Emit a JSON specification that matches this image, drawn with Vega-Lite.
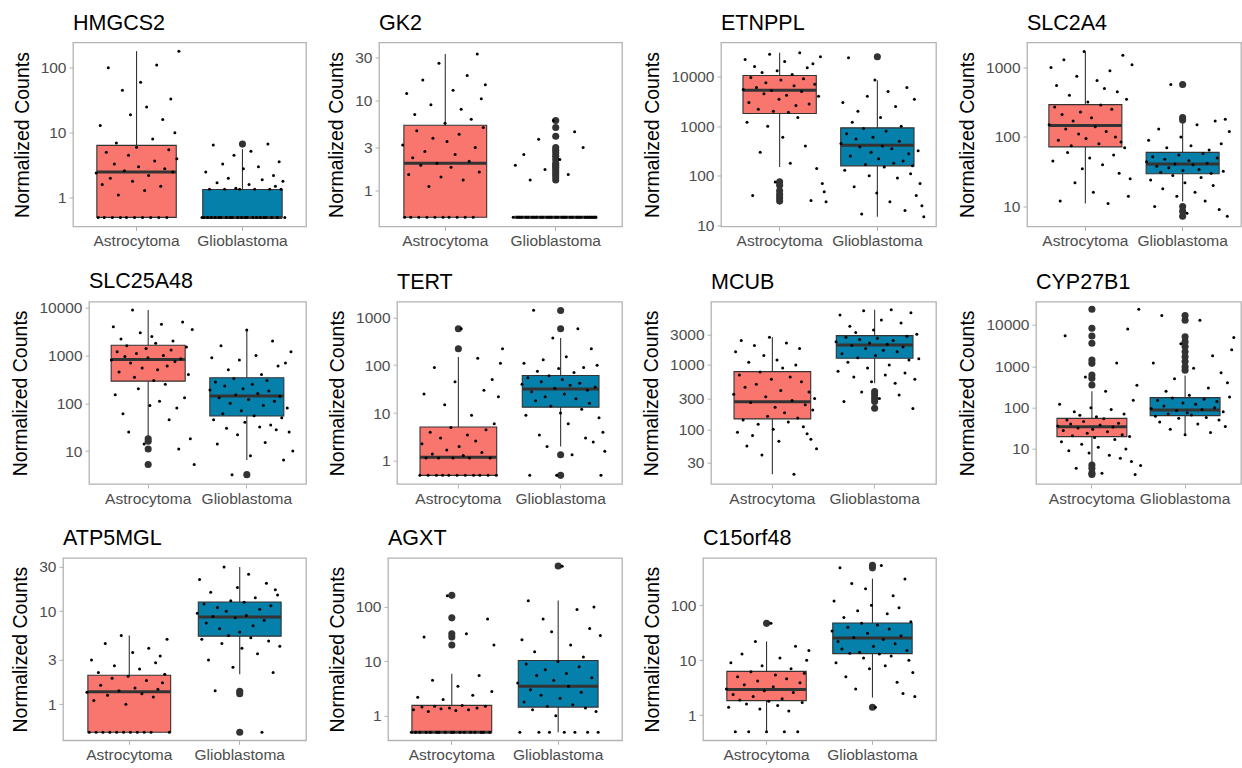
{
"$schema":"https://vega.github.io/schema/vega-lite/v6.json",
"background":"white",
"padding":{"left":0,"top":11.5,"right":0,"bottom":0},
"config":{
 "font":"Liberation Sans",
 "view":{"stroke":"#B3B3B3","strokeWidth":1.3},
 "axis":{"grid":false,"domain":false,"tickColor":"#B3B3B3","tickSize":4,"tickWidth":1,"labelFontSize":15.5,"labelColor":"#4D4D4D","labelPadding":3,"titleFontSize":19.5,"titleFontWeight":"normal","titleColor":"#000000","titlePadding":8,"labelFont":"Liberation Sans","titleFont":"Liberation Sans"},
 "title":{"anchor":"start","frame":"group","fontSize":21.5,"fontWeight":"normal","color":"#000000","offset":8,"font":"Liberation Sans"}
},
"datasets":{
"box":[
{"g":"HMGCS2","c":"A","lo":0.5,"q1":0.5,"med":2.5,"q3":6.4,"hi":180},
{"g":"HMGCS2","c":"G","lo":0.5,"q1":0.5,"med":0.5,"q3":1.34,"hi":5.6},
{"g":"GK2","c":"A","lo":0.5,"q1":0.5,"med":2.0,"q3":5.3,"hi":33},
{"g":"GK2","c":"G","lo":0.5,"q1":0.5,"med":0.5,"q3":0.5,"hi":0.5},
{"g":"ETNPPL","c":"A","lo":151,"q1":1800,"med":5300,"q3":10500,"hi":30000},
{"g":"ETNPPL","c":"G","lo":15,"q1":159,"med":414,"q3":925,"hi":8430},
{"g":"SLC2A4","c":"A","lo":11,"q1":72,"med":147,"q3":293,"hi":1700},
{"g":"SLC2A4","c":"G","lo":11.8,"q1":29.5,"med":41,"q3":60,"hi":159},
{"g":"SLC25A48","c":"A","lo":20.5,"q1":290,"med":825,"q3":1640,"hi":9000},
{"g":"SLC25A48","c":"G","lo":6.5,"q1":54,"med":141,"q3":341,"hi":3400},
{"g":"TERT","c":"A","lo":0.5,"q1":0.5,"med":1.2,"q3":5.1,"hi":148},
{"g":"TERT","c":"G","lo":2.0,"q1":13.3,"med":32,"q3":61,"hi":370},
{"g":"MCUB","c":"A","lo":20,"q1":145,"med":269,"q3":788,"hi":2700},
{"g":"MCUB","c":"G","lo":518,"q1":1270,"med":2050,"q3":2860,"hi":7200},
{"g":"CYP27B1","c":"A","lo":4.5,"q1":19.9,"med":34.7,"q3":55,"hi":250},
{"g":"CYP27B1","c":"G","lo":21.8,"q1":64,"med":88,"q3":175,"hi":600},
{"g":"ATP5MGL","c":"A","lo":0.5,"q1":0.5,"med":1.36,"q3":2.05,"hi":5.5},
{"g":"ATP5MGL","c":"G","lo":2.1,"q1":5.4,"med":8.7,"q3":12.6,"hi":30},
{"g":"AGXT","c":"A","lo":0.5,"q1":0.5,"med":0.5,"q3":1.56,"hi":5.9},
{"g":"AGXT","c":"G","lo":0.5,"q1":1.45,"med":3.5,"q3":10.4,"hi":131},
{"g":"C15orf48","c":"A","lo":0.5,"q1":1.85,"med":2.93,"q3":6.3,"hi":22},
{"g":"C15orf48","c":"G","lo":2.1,"q1":13.2,"med":25.5,"q3":47.8,"hi":305}
],
"out":[
{"g":"HMGCS2","c":"G","v":6.7},
{"g":"GK2","c":"G","v":1.3},{"g":"GK2","c":"G","v":1.4},{"g":"GK2","c":"G","v":1.5},{"g":"GK2","c":"G","v":1.6},{"g":"GK2","c":"G","v":1.7},{"g":"GK2","c":"G","v":1.8},{"g":"GK2","c":"G","v":1.9},{"g":"GK2","c":"G","v":2.0},{"g":"GK2","c":"G","v":2.2},{"g":"GK2","c":"G","v":2.4},{"g":"GK2","c":"G","v":2.6},{"g":"GK2","c":"G","v":2.8},{"g":"GK2","c":"G","v":3.0},{"g":"GK2","c":"G","v":4.0},{"g":"GK2","c":"G","v":5.0},{"g":"GK2","c":"G","v":6.0},
{"g":"ETNPPL","c":"A","v":76},{"g":"ETNPPL","c":"A","v":65},{"g":"ETNPPL","c":"A","v":50},{"g":"ETNPPL","c":"A","v":42},{"g":"ETNPPL","c":"A","v":36},{"g":"ETNPPL","c":"A","v":31},
{"g":"ETNPPL","c":"G","v":24900},
{"g":"SLC2A4","c":"G","v":570},{"g":"SLC2A4","c":"G","v":190},{"g":"SLC2A4","c":"G","v":175},{"g":"SLC2A4","c":"G","v":10},{"g":"SLC2A4","c":"G","v":8.5},{"g":"SLC2A4","c":"G","v":7.2},
{"g":"SLC25A48","c":"A","v":18},{"g":"SLC25A48","c":"A","v":16},{"g":"SLC25A48","c":"A","v":11},{"g":"SLC25A48","c":"A","v":5.2},
{"g":"SLC25A48","c":"G","v":3.2},
{"g":"TERT","c":"A","v":220},{"g":"TERT","c":"A","v":575},
{"g":"TERT","c":"G","v":1390},{"g":"TERT","c":"G","v":575},{"g":"TERT","c":"G","v":1.35},{"g":"TERT","c":"G","v":0.5},
{"g":"MCUB","c":"G","v":385},{"g":"MCUB","c":"G","v":345},{"g":"MCUB","c":"G","v":303},{"g":"MCUB","c":"G","v":270},{"g":"MCUB","c":"G","v":212},
{"g":"CYP27B1","c":"A","v":353},{"g":"CYP27B1","c":"A","v":513},{"g":"CYP27B1","c":"A","v":617},{"g":"CYP27B1","c":"A","v":1180},{"g":"CYP27B1","c":"A","v":1420},{"g":"CYP27B1","c":"A","v":3600},{"g":"CYP27B1","c":"A","v":5400},{"g":"CYP27B1","c":"A","v":8300},{"g":"CYP27B1","c":"A","v":24000},{"g":"CYP27B1","c":"A","v":4.1},{"g":"CYP27B1","c":"A","v":3.4},{"g":"CYP27B1","c":"A","v":2.6},{"g":"CYP27B1","c":"A","v":2.4},
{"g":"CYP27B1","c":"G","v":800},{"g":"CYP27B1","c":"G","v":980},{"g":"CYP27B1","c":"G","v":1300},{"g":"CYP27B1","c":"G","v":1700},{"g":"CYP27B1","c":"G","v":2250},{"g":"CYP27B1","c":"G","v":3000},{"g":"CYP27B1","c":"G","v":3950},{"g":"CYP27B1","c":"G","v":5200},{"g":"CYP27B1","c":"G","v":13000},{"g":"CYP27B1","c":"G","v":17000},
{"g":"ATP5MGL","c":"G","v":1.38},{"g":"ATP5MGL","c":"G","v":1.3},{"g":"ATP5MGL","c":"G","v":0.5},
{"g":"AGXT","c":"A","v":163},{"g":"AGXT","c":"A","v":63},{"g":"AGXT","c":"A","v":32},{"g":"AGXT","c":"A","v":28},{"g":"AGXT","c":"A","v":20},
{"g":"AGXT","c":"G","v":563},
{"g":"C15orf48","c":"A","v":47},
{"g":"C15orf48","c":"G","v":533},{"g":"C15orf48","c":"G","v":480},{"g":"C15orf48","c":"G","v":1.4}
],
"pts":[
{"g":"HMGCS2","c":"A","v":2.4},{"g":"HMGCS2","c":"A","v":0.5},{"g":"HMGCS2","c":"A","v":13},{"g":"HMGCS2","c":"A","v":1.6},{"g":"HMGCS2","c":"A","v":0.5},{"g":"HMGCS2","c":"A","v":5.0},{"g":"HMGCS2","c":"A","v":100},{"g":"HMGCS2","c":"A","v":2.0},{"g":"HMGCS2","c":"A","v":0.5},{"g":"HMGCS2","c":"A","v":3.3},{"g":"HMGCS2","c":"A","v":7},{"g":"HMGCS2","c":"A","v":1.1},{"g":"HMGCS2","c":"A","v":0.5},{"g":"HMGCS2","c":"A","v":45},{"g":"HMGCS2","c":"A","v":2.6},{"g":"HMGCS2","c":"A","v":0.5},{"g":"HMGCS2","c":"A","v":4.5},{"g":"HMGCS2","c":"A","v":19},{"g":"HMGCS2","c":"A","v":1.8},{"g":"HMGCS2","c":"A","v":0.5},{"g":"HMGCS2","c":"A","v":6.0},{"g":"HMGCS2","c":"A","v":3.0},{"g":"HMGCS2","c":"A","v":60},{"g":"HMGCS2","c":"A","v":0.5},{"g":"HMGCS2","c":"A","v":1.3},{"g":"HMGCS2","c":"A","v":25},{"g":"HMGCS2","c":"A","v":2.2},{"g":"HMGCS2","c":"A","v":0.5},{"g":"HMGCS2","c":"A","v":8},{"g":"HMGCS2","c":"A","v":3.7},{"g":"HMGCS2","c":"A","v":110},{"g":"HMGCS2","c":"A","v":0.5},{"g":"HMGCS2","c":"A","v":1.5},{"g":"HMGCS2","c":"A","v":16},{"g":"HMGCS2","c":"A","v":2.8},{"g":"HMGCS2","c":"A","v":0.5},{"g":"HMGCS2","c":"A","v":5.5},{"g":"HMGCS2","c":"A","v":33},{"g":"HMGCS2","c":"A","v":2.5},{"g":"HMGCS2","c":"A","v":10},{"g":"HMGCS2","c":"A","v":4.0},{"g":"HMGCS2","c":"A","v":180},
{"g":"HMGCS2","c":"G","v":0.5},{"g":"HMGCS2","c":"G","v":0.5},{"g":"HMGCS2","c":"G","v":2.5},{"g":"HMGCS2","c":"G","v":0.5},{"g":"HMGCS2","c":"G","v":1.35},{"g":"HMGCS2","c":"G","v":0.5},{"g":"HMGCS2","c":"G","v":6.5},{"g":"HMGCS2","c":"G","v":0.5},{"g":"HMGCS2","c":"G","v":1.7},{"g":"HMGCS2","c":"G","v":0.5},{"g":"HMGCS2","c":"G","v":0.5},{"g":"HMGCS2","c":"G","v":3.3},{"g":"HMGCS2","c":"G","v":1.35},{"g":"HMGCS2","c":"G","v":0.5},{"g":"HMGCS2","c":"G","v":2.0},{"g":"HMGCS2","c":"G","v":0.5},{"g":"HMGCS2","c":"G","v":0.5},{"g":"HMGCS2","c":"G","v":4.5},{"g":"HMGCS2","c":"G","v":1.4},{"g":"HMGCS2","c":"G","v":0.5},{"g":"HMGCS2","c":"G","v":1.35},{"g":"HMGCS2","c":"G","v":0.5},{"g":"HMGCS2","c":"G","v":2.8},{"g":"HMGCS2","c":"G","v":0.5},{"g":"HMGCS2","c":"G","v":0.5},{"g":"HMGCS2","c":"G","v":1.6},{"g":"HMGCS2","c":"G","v":5.2},{"g":"HMGCS2","c":"G","v":0.5},{"g":"HMGCS2","c":"G","v":1.35},{"g":"HMGCS2","c":"G","v":0.5},{"g":"HMGCS2","c":"G","v":3.0},{"g":"HMGCS2","c":"G","v":0.5},{"g":"HMGCS2","c":"G","v":1.9},{"g":"HMGCS2","c":"G","v":0.5},{"g":"HMGCS2","c":"G","v":0.5},{"g":"HMGCS2","c":"G","v":6.7},{"g":"HMGCS2","c":"G","v":1.35},{"g":"HMGCS2","c":"G","v":0.5},{"g":"HMGCS2","c":"G","v":2.2},{"g":"HMGCS2","c":"G","v":1.5},{"g":"HMGCS2","c":"G","v":0.5},{"g":"HMGCS2","c":"G","v":3.6},{"g":"HMGCS2","c":"G","v":1.35},{"g":"HMGCS2","c":"G","v":1.8},{"g":"HMGCS2","c":"G","v":0.5},
{"g":"GK2","c":"A","v":3.2},{"g":"GK2","c":"A","v":0.5},{"g":"GK2","c":"A","v":12},{"g":"GK2","c":"A","v":1.5},{"g":"GK2","c":"A","v":0.5},{"g":"GK2","c":"A","v":2.3},{"g":"GK2","c":"A","v":7},{"g":"GK2","c":"A","v":4.6},{"g":"GK2","c":"A","v":0.5},{"g":"GK2","c":"A","v":1.9},{"g":"GK2","c":"A","v":17},{"g":"GK2","c":"A","v":2.7},{"g":"GK2","c":"A","v":0.5},{"g":"GK2","c":"A","v":1.1},{"g":"GK2","c":"A","v":9},{"g":"GK2","c":"A","v":3.8},{"g":"GK2","c":"A","v":0.5},{"g":"GK2","c":"A","v":2.0},{"g":"GK2","c":"A","v":26},{"g":"GK2","c":"A","v":1.4},{"g":"GK2","c":"A","v":0.5},{"g":"GK2","c":"A","v":5.6},{"g":"GK2","c":"A","v":3.5},{"g":"GK2","c":"A","v":0.5},{"g":"GK2","c":"A","v":1.8},{"g":"GK2","c":"A","v":13},{"g":"GK2","c":"A","v":2.5},{"g":"GK2","c":"A","v":0.5},{"g":"GK2","c":"A","v":4.2},{"g":"GK2","c":"A","v":8},{"g":"GK2","c":"A","v":1.3},{"g":"GK2","c":"A","v":0.5},{"g":"GK2","c":"A","v":19},{"g":"GK2","c":"A","v":2.1},{"g":"GK2","c":"A","v":6.2},{"g":"GK2","c":"A","v":0.5},{"g":"GK2","c":"A","v":3.0},{"g":"GK2","c":"A","v":33},{"g":"GK2","c":"A","v":1.6},{"g":"GK2","c":"A","v":10.5},{"g":"GK2","c":"A","v":5.0},{"g":"GK2","c":"A","v":15},
{"g":"GK2","c":"G","v":0.5},{"g":"GK2","c":"G","v":1.9},{"g":"GK2","c":"G","v":0.5},{"g":"GK2","c":"G","v":0.5},{"g":"GK2","c":"G","v":0.5},{"g":"GK2","c":"G","v":2.5},{"g":"GK2","c":"G","v":0.5},{"g":"GK2","c":"G","v":0.5},{"g":"GK2","c":"G","v":1.3},{"g":"GK2","c":"G","v":0.5},{"g":"GK2","c":"G","v":0.5},{"g":"GK2","c":"G","v":0.5},{"g":"GK2","c":"G","v":3.7},{"g":"GK2","c":"G","v":0.5},{"g":"GK2","c":"G","v":0.5},{"g":"GK2","c":"G","v":1.7},{"g":"GK2","c":"G","v":0.5},{"g":"GK2","c":"G","v":0.5},{"g":"GK2","c":"G","v":0.5},{"g":"GK2","c":"G","v":6.0},{"g":"GK2","c":"G","v":0.5},{"g":"GK2","c":"G","v":0.5},{"g":"GK2","c":"G","v":2.2},{"g":"GK2","c":"G","v":0.5},{"g":"GK2","c":"G","v":0.5},{"g":"GK2","c":"G","v":0.5},{"g":"GK2","c":"G","v":1.5},{"g":"GK2","c":"G","v":0.5},{"g":"GK2","c":"G","v":0.5},{"g":"GK2","c":"G","v":4.5},{"g":"GK2","c":"G","v":0.5},{"g":"GK2","c":"G","v":0.5},{"g":"GK2","c":"G","v":0.5},{"g":"GK2","c":"G","v":3.0},{"g":"GK2","c":"G","v":0.5},{"g":"GK2","c":"G","v":0.5},{"g":"GK2","c":"G","v":0.5},{"g":"GK2","c":"G","v":0.5},{"g":"GK2","c":"G","v":0.5},{"g":"GK2","c":"G","v":0.5},
{"g":"ETNPPL","c":"A","v":5500},{"g":"ETNPPL","c":"A","v":22000},{"g":"ETNPPL","c":"A","v":1200},{"g":"ETNPPL","c":"A","v":3000},{"g":"ETNPPL","c":"A","v":9500},{"g":"ETNPPL","c":"A","v":40},{"g":"ETNPPL","c":"A","v":16000},{"g":"ETNPPL","c":"A","v":6000},{"g":"ETNPPL","c":"A","v":2200},{"g":"ETNPPL","c":"A","v":300},{"g":"ETNPPL","c":"A","v":12000},{"g":"ETNPPL","c":"A","v":4500},{"g":"ETNPPL","c":"A","v":7500},{"g":"ETNPPL","c":"A","v":1000},{"g":"ETNPPL","c":"A","v":28000},{"g":"ETNPPL","c":"A","v":5200},{"g":"ETNPPL","c":"A","v":2000},{"g":"ETNPPL","c":"A","v":75},{"g":"ETNPPL","c":"A","v":13000},{"g":"ETNPPL","c":"A","v":3500},{"g":"ETNPPL","c":"A","v":8500},{"g":"ETNPPL","c":"A","v":600},{"g":"ETNPPL","c":"A","v":20000},{"g":"ETNPPL","c":"A","v":4200},{"g":"ETNPPL","c":"A","v":1900},{"g":"ETNPPL","c":"A","v":180},{"g":"ETNPPL","c":"A","v":11000},{"g":"ETNPPL","c":"A","v":6500},{"g":"ETNPPL","c":"A","v":2600},{"g":"ETNPPL","c":"A","v":1500},{"g":"ETNPPL","c":"A","v":30000},{"g":"ETNPPL","c":"A","v":5000},{"g":"ETNPPL","c":"A","v":9000},{"g":"ETNPPL","c":"A","v":400},{"g":"ETNPPL","c":"A","v":15000},{"g":"ETNPPL","c":"A","v":2800},{"g":"ETNPPL","c":"A","v":32},{"g":"ETNPPL","c":"A","v":18000},{"g":"ETNPPL","c":"A","v":7000},{"g":"ETNPPL","c":"A","v":140},{"g":"ETNPPL","c":"A","v":4000},{"g":"ETNPPL","c":"A","v":25000},{"g":"ETNPPL","c":"A","v":70},{"g":"ETNPPL","c":"A","v":48},{"g":"ETNPPL","c":"A","v":30},
{"g":"ETNPPL","c":"G","v":450},{"g":"ETNPPL","c":"G","v":3000},{"g":"ETNPPL","c":"G","v":130},{"g":"ETNPPL","c":"G","v":700},{"g":"ETNPPL","c":"G","v":24000},{"g":"ETNPPL","c":"G","v":250},{"g":"ETNPPL","c":"G","v":1200},{"g":"ETNPPL","c":"G","v":60},{"g":"ETNPPL","c":"G","v":550},{"g":"ETNPPL","c":"G","v":2000},{"g":"ETNPPL","c":"G","v":380},{"g":"ETNPPL","c":"G","v":17},{"g":"ETNPPL","c":"G","v":900},{"g":"ETNPPL","c":"G","v":170},{"g":"ETNPPL","c":"G","v":4000},{"g":"ETNPPL","c":"G","v":100},{"g":"ETNPPL","c":"G","v":300},{"g":"ETNPPL","c":"G","v":600},{"g":"ETNPPL","c":"G","v":8500},{"g":"ETNPPL","c":"G","v":45},{"g":"ETNPPL","c":"G","v":220},{"g":"ETNPPL","c":"G","v":1500},{"g":"ETNPPL","c":"G","v":400},{"g":"ETNPPL","c":"G","v":150},{"g":"ETNPPL","c":"G","v":800},{"g":"ETNPPL","c":"G","v":5000},{"g":"ETNPPL","c":"G","v":30},{"g":"ETNPPL","c":"G","v":350},{"g":"ETNPPL","c":"G","v":180},{"g":"ETNPPL","c":"G","v":2500},{"g":"ETNPPL","c":"G","v":90},{"g":"ETNPPL","c":"G","v":500},{"g":"ETNPPL","c":"G","v":1000},{"g":"ETNPPL","c":"G","v":200},{"g":"ETNPPL","c":"G","v":20},{"g":"ETNPPL","c":"G","v":6000},{"g":"ETNPPL","c":"G","v":280},{"g":"ETNPPL","c":"G","v":110},{"g":"ETNPPL","c":"G","v":160},{"g":"ETNPPL","c":"G","v":3500},{"g":"ETNPPL","c":"G","v":40},{"g":"ETNPPL","c":"G","v":320},{"g":"ETNPPL","c":"G","v":70},{"g":"ETNPPL","c":"G","v":25},{"g":"ETNPPL","c":"G","v":15},
{"g":"SLC2A4","c":"A","v":150},{"g":"SLC2A4","c":"A","v":1000},{"g":"SLC2A4","c":"A","v":45},{"g":"SLC2A4","c":"A","v":270},{"g":"SLC2A4","c":"A","v":550},{"g":"SLC2A4","c":"A","v":90},{"g":"SLC2A4","c":"A","v":12},{"g":"SLC2A4","c":"A","v":210},{"g":"SLC2A4","c":"A","v":1300},{"g":"SLC2A4","c":"A","v":130},{"g":"SLC2A4","c":"A","v":60},{"g":"SLC2A4","c":"A","v":400},{"g":"SLC2A4","c":"A","v":75},{"g":"SLC2A4","c":"A","v":170},{"g":"SLC2A4","c":"A","v":22},{"g":"SLC2A4","c":"A","v":750},{"g":"SLC2A4","c":"A","v":110},{"g":"SLC2A4","c":"A","v":230},{"g":"SLC2A4","c":"A","v":35},{"g":"SLC2A4","c":"A","v":1700},{"g":"SLC2A4","c":"A","v":95},{"g":"SLC2A4","c":"A","v":320},{"g":"SLC2A4","c":"A","v":50},{"g":"SLC2A4","c":"A","v":190},{"g":"SLC2A4","c":"A","v":16},{"g":"SLC2A4","c":"A","v":140},{"g":"SLC2A4","c":"A","v":650},{"g":"SLC2A4","c":"A","v":80},{"g":"SLC2A4","c":"A","v":290},{"g":"SLC2A4","c":"A","v":40},{"g":"SLC2A4","c":"A","v":500},{"g":"SLC2A4","c":"A","v":120},{"g":"SLC2A4","c":"A","v":11},{"g":"SLC2A4","c":"A","v":900},{"g":"SLC2A4","c":"A","v":250},{"g":"SLC2A4","c":"A","v":55},{"g":"SLC2A4","c":"A","v":100},{"g":"SLC2A4","c":"A","v":450},{"g":"SLC2A4","c":"A","v":30},{"g":"SLC2A4","c":"A","v":85},{"g":"SLC2A4","c":"A","v":1500},{"g":"SLC2A4","c":"A","v":70},{"g":"SLC2A4","c":"A","v":350},{"g":"SLC2A4","c":"A","v":14},{"g":"SLC2A4","c":"A","v":25},{"g":"SLC2A4","c":"A","v":1100},
{"g":"SLC2A4","c":"G","v":44},{"g":"SLC2A4","c":"G","v":90},{"g":"SLC2A4","c":"G","v":24},{"g":"SLC2A4","c":"G","v":52},{"g":"SLC2A4","c":"G","v":10},{"g":"SLC2A4","c":"G","v":38},{"g":"SLC2A4","c":"G","v":130},{"g":"SLC2A4","c":"G","v":31},{"g":"SLC2A4","c":"G","v":18},{"g":"SLC2A4","c":"G","v":48},{"g":"SLC2A4","c":"G","v":70},{"g":"SLC2A4","c":"G","v":36},{"g":"SLC2A4","c":"G","v":570},{"g":"SLC2A4","c":"G","v":28},{"g":"SLC2A4","c":"G","v":41},{"g":"SLC2A4","c":"G","v":14},{"g":"SLC2A4","c":"G","v":55},{"g":"SLC2A4","c":"G","v":100},{"g":"SLC2A4","c":"G","v":33},{"g":"SLC2A4","c":"G","v":22},{"g":"SLC2A4","c":"G","v":8},{"g":"SLC2A4","c":"G","v":46},{"g":"SLC2A4","c":"G","v":75},{"g":"SLC2A4","c":"G","v":40},{"g":"SLC2A4","c":"G","v":16},{"g":"SLC2A4","c":"G","v":150},{"g":"SLC2A4","c":"G","v":34},{"g":"SLC2A4","c":"G","v":26},{"g":"SLC2A4","c":"G","v":58},{"g":"SLC2A4","c":"G","v":12},{"g":"SLC2A4","c":"G","v":42},{"g":"SLC2A4","c":"G","v":65},{"g":"SLC2A4","c":"G","v":30},{"g":"SLC2A4","c":"G","v":20},{"g":"SLC2A4","c":"G","v":170},{"g":"SLC2A4","c":"G","v":50},{"g":"SLC2A4","c":"G","v":9},{"g":"SLC2A4","c":"G","v":80},{"g":"SLC2A4","c":"G","v":32},{"g":"SLC2A4","c":"G","v":180},{"g":"SLC2A4","c":"G","v":7.2},{"g":"SLC2A4","c":"G","v":120},
{"g":"SLC25A48","c":"A","v":800},{"g":"SLC25A48","c":"A","v":4000},{"g":"SLC25A48","c":"A","v":150},{"g":"SLC25A48","c":"A","v":1200},{"g":"SLC25A48","c":"A","v":450},{"g":"SLC25A48","c":"A","v":2200},{"g":"SLC25A48","c":"A","v":60},{"g":"SLC25A48","c":"A","v":950},{"g":"SLC25A48","c":"A","v":1600},{"g":"SLC25A48","c":"A","v":25},{"g":"SLC25A48","c":"A","v":700},{"g":"SLC25A48","c":"A","v":9000},{"g":"SLC25A48","c":"A","v":350},{"g":"SLC25A48","c":"A","v":1100},{"g":"SLC25A48","c":"A","v":200},{"g":"SLC25A48","c":"A","v":3000},{"g":"SLC25A48","c":"A","v":550},{"g":"SLC25A48","c":"A","v":14},{"g":"SLC25A48","c":"A","v":1400},{"g":"SLC25A48","c":"A","v":900},{"g":"SLC25A48","c":"A","v":90},{"g":"SLC25A48","c":"A","v":2500},{"g":"SLC25A48","c":"A","v":300},{"g":"SLC25A48","c":"A","v":1800},{"g":"SLC25A48","c":"A","v":500},{"g":"SLC25A48","c":"A","v":110},{"g":"SLC25A48","c":"A","v":4500},{"g":"SLC25A48","c":"A","v":1000},{"g":"SLC25A48","c":"A","v":250},{"g":"SLC25A48","c":"A","v":600},{"g":"SLC25A48","c":"A","v":45},{"g":"SLC25A48","c":"A","v":1300},{"g":"SLC25A48","c":"A","v":2000},{"g":"SLC25A48","c":"A","v":750},{"g":"SLC25A48","c":"A","v":80},{"g":"SLC25A48","c":"A","v":11},{"g":"SLC25A48","c":"A","v":850},{"g":"SLC25A48","c":"A","v":5000},{"g":"SLC25A48","c":"A","v":130},{"g":"SLC25A48","c":"A","v":1500},{"g":"SLC25A48","c":"A","v":400},{"g":"SLC25A48","c":"A","v":18},{"g":"SLC25A48","c":"A","v":3500},{"g":"SLC25A48","c":"A","v":5.2},
{"g":"SLC25A48","c":"G","v":190},{"g":"SLC25A48","c":"G","v":900},{"g":"SLC25A48","c":"G","v":45},{"g":"SLC25A48","c":"G","v":280},{"g":"SLC25A48","c":"G","v":14},{"g":"SLC25A48","c":"G","v":130},{"g":"SLC25A48","c":"G","v":1600},{"g":"SLC25A48","c":"G","v":60},{"g":"SLC25A48","c":"G","v":230},{"g":"SLC25A48","c":"G","v":30},{"g":"SLC25A48","c":"G","v":500},{"g":"SLC25A48","c":"G","v":100},{"g":"SLC25A48","c":"G","v":3.2},{"g":"SLC25A48","c":"G","v":330},{"g":"SLC25A48","c":"G","v":150},{"g":"SLC25A48","c":"G","v":22},{"g":"SLC25A48","c":"G","v":800},{"g":"SLC25A48","c":"G","v":70},{"g":"SLC25A48","c":"G","v":200},{"g":"SLC25A48","c":"G","v":40},{"g":"SLC25A48","c":"G","v":3400},{"g":"SLC25A48","c":"G","v":120},{"g":"SLC25A48","c":"G","v":8},{"g":"SLC25A48","c":"G","v":250},{"g":"SLC25A48","c":"G","v":55},{"g":"SLC25A48","c":"G","v":1000},{"g":"SLC25A48","c":"G","v":160},{"g":"SLC25A48","c":"G","v":32},{"g":"SLC25A48","c":"G","v":400},{"g":"SLC25A48","c":"G","v":90},{"g":"SLC25A48","c":"G","v":15},{"g":"SLC25A48","c":"G","v":300},{"g":"SLC25A48","c":"G","v":180},{"g":"SLC25A48","c":"G","v":35},{"g":"SLC25A48","c":"G","v":2000},{"g":"SLC25A48","c":"G","v":110},{"g":"SLC25A48","c":"G","v":28},{"g":"SLC25A48","c":"G","v":600},{"g":"SLC25A48","c":"G","v":140},{"g":"SLC25A48","c":"G","v":50},{"g":"SLC25A48","c":"G","v":6.5},{"g":"SLC25A48","c":"G","v":700},{"g":"SLC25A48","c":"G","v":80},{"g":"SLC25A48","c":"G","v":25},{"g":"SLC25A48","c":"G","v":1200},{"g":"SLC25A48","c":"G","v":10},
{"g":"TERT","c":"A","v":0.5},{"g":"TERT","c":"A","v":2.3},{"g":"TERT","c":"A","v":25},{"g":"TERT","c":"A","v":1.15},{"g":"TERT","c":"A","v":0.5},{"g":"TERT","c":"A","v":4.0},{"g":"TERT","c":"A","v":1.4},{"g":"TERT","c":"A","v":90},{"g":"TERT","c":"A","v":0.5},{"g":"TERT","c":"A","v":1.15},{"g":"TERT","c":"A","v":3.0},{"g":"TERT","c":"A","v":0.5},{"g":"TERT","c":"A","v":15},{"g":"TERT","c":"A","v":1.7},{"g":"TERT","c":"A","v":0.5},{"g":"TERT","c":"A","v":5.0},{"g":"TERT","c":"A","v":1.15},{"g":"TERT","c":"A","v":45},{"g":"TERT","c":"A","v":0.5},{"g":"TERT","c":"A","v":2.0},{"g":"TERT","c":"A","v":580},{"g":"TERT","c":"A","v":1.3},{"g":"TERT","c":"A","v":0.5},{"g":"TERT","c":"A","v":3.5},{"g":"TERT","c":"A","v":1.15},{"g":"TERT","c":"A","v":9},{"g":"TERT","c":"A","v":0.5},{"g":"TERT","c":"A","v":2.6},{"g":"TERT","c":"A","v":140},{"g":"TERT","c":"A","v":0.5},{"g":"TERT","c":"A","v":1.5},{"g":"TERT","c":"A","v":30},{"g":"TERT","c":"A","v":4.5},{"g":"TERT","c":"A","v":0.5},{"g":"TERT","c":"A","v":1.15},{"g":"TERT","c":"A","v":50},{"g":"TERT","c":"A","v":6},{"g":"TERT","c":"A","v":0.5},{"g":"TERT","c":"A","v":22},{"g":"TERT","c":"A","v":110},{"g":"TERT","c":"A","v":220},
{"g":"TERT","c":"G","v":40},{"g":"TERT","c":"G","v":110},{"g":"TERT","c":"G","v":9},{"g":"TERT","c":"G","v":55},{"g":"TERT","c":"G","v":0.5},{"g":"TERT","c":"G","v":28},{"g":"TERT","c":"G","v":1400},{"g":"TERT","c":"G","v":18},{"g":"TERT","c":"G","v":75},{"g":"TERT","c":"G","v":3.5},{"g":"TERT","c":"G","v":45},{"g":"TERT","c":"G","v":130},{"g":"TERT","c":"G","v":22},{"g":"TERT","c":"G","v":2},{"g":"TERT","c":"G","v":60},{"g":"TERT","c":"G","v":14},{"g":"TERT","c":"G","v":370},{"g":"TERT","c":"G","v":33},{"g":"TERT","c":"G","v":0.5},{"g":"TERT","c":"G","v":85},{"g":"TERT","c":"G","v":10},{"g":"TERT","c":"G","v":50},{"g":"TERT","c":"G","v":25},{"g":"TERT","c":"G","v":150},{"g":"TERT","c":"G","v":6},{"g":"TERT","c":"G","v":38},{"g":"TERT","c":"G","v":1.35},{"g":"TERT","c":"G","v":70},{"g":"TERT","c":"G","v":20},{"g":"TERT","c":"G","v":580},{"g":"TERT","c":"G","v":42},{"g":"TERT","c":"G","v":12},{"g":"TERT","c":"G","v":90},{"g":"TERT","c":"G","v":3},{"g":"TERT","c":"G","v":30},{"g":"TERT","c":"G","v":16},{"g":"TERT","c":"G","v":220},{"g":"TERT","c":"G","v":2.5},{"g":"TERT","c":"G","v":35},{"g":"TERT","c":"G","v":100},{"g":"TERT","c":"G","v":8},{"g":"TERT","c":"G","v":0.5},{"g":"TERT","c":"G","v":4},{"g":"TERT","c":"G","v":1.6},
{"g":"MCUB","c":"A","v":350},{"g":"MCUB","c":"A","v":1600},{"g":"MCUB","c":"A","v":90},{"g":"MCUB","c":"A","v":700},{"g":"MCUB","c":"A","v":2400},{"g":"MCUB","c":"A","v":140},{"g":"MCUB","c":"A","v":450},{"g":"MCUB","c":"A","v":55},{"g":"MCUB","c":"A","v":1100},{"g":"MCUB","c":"A","v":260},{"g":"MCUB","c":"A","v":80},{"g":"MCUB","c":"A","v":2000},{"g":"MCUB","c":"A","v":500},{"g":"MCUB","c":"A","v":120},{"g":"MCUB","c":"A","v":780},{"g":"MCUB","c":"A","v":40},{"g":"MCUB","c":"A","v":1400},{"g":"MCUB","c":"A","v":320},{"g":"MCUB","c":"A","v":160},{"g":"MCUB","c":"A","v":2700},{"g":"MCUB","c":"A","v":600},{"g":"MCUB","c":"A","v":100},{"g":"MCUB","c":"A","v":220},{"g":"MCUB","c":"A","v":1200},{"g":"MCUB","c":"A","v":65},{"g":"MCUB","c":"A","v":400},{"g":"MCUB","c":"A","v":900},{"g":"MCUB","c":"A","v":180},{"g":"MCUB","c":"A","v":2200},{"g":"MCUB","c":"A","v":130},{"g":"MCUB","c":"A","v":650},{"g":"MCUB","c":"A","v":280},{"g":"MCUB","c":"A","v":20},{"g":"MCUB","c":"A","v":1000},{"g":"MCUB","c":"A","v":150},{"g":"MCUB","c":"A","v":1800},{"g":"MCUB","c":"A","v":550},{"g":"MCUB","c":"A","v":110},{"g":"MCUB","c":"A","v":240},{"g":"MCUB","c":"A","v":85},{"g":"MCUB","c":"A","v":380},{"g":"MCUB","c":"A","v":70},{"g":"MCUB","c":"A","v":200},{"g":"MCUB","c":"A","v":300},{"g":"MCUB","c":"A","v":50},
{"g":"MCUB","c":"G","v":2300},{"g":"MCUB","c":"G","v":800},{"g":"MCUB","c":"G","v":6000},{"g":"MCUB","c":"G","v":1500},{"g":"MCUB","c":"G","v":270},{"g":"MCUB","c":"G","v":2700},{"g":"MCUB","c":"G","v":1100},{"g":"MCUB","c":"G","v":4000},{"g":"MCUB","c":"G","v":2000},{"g":"MCUB","c":"G","v":650},{"g":"MCUB","c":"G","v":3200},{"g":"MCUB","c":"G","v":1300},{"g":"MCUB","c":"G","v":2500},{"g":"MCUB","c":"G","v":380},{"g":"MCUB","c":"G","v":7000},{"g":"MCUB","c":"G","v":1800},{"g":"MCUB","c":"G","v":900},{"g":"MCUB","c":"G","v":2200},{"g":"MCUB","c":"G","v":550},{"g":"MCUB","c":"G","v":3500},{"g":"MCUB","c":"G","v":1400},{"g":"MCUB","c":"G","v":2600},{"g":"MCUB","c":"G","v":300},{"g":"MCUB","c":"G","v":5000},{"g":"MCUB","c":"G","v":1700},{"g":"MCUB","c":"G","v":700},{"g":"MCUB","c":"G","v":2100},{"g":"MCUB","c":"G","v":1000},{"g":"MCUB","c":"G","v":7200},{"g":"MCUB","c":"G","v":2400},{"g":"MCUB","c":"G","v":520},{"g":"MCUB","c":"G","v":1600},{"g":"MCUB","c":"G","v":340},{"g":"MCUB","c":"G","v":4500},{"g":"MCUB","c":"G","v":1900},{"g":"MCUB","c":"G","v":750},{"g":"MCUB","c":"G","v":2800},{"g":"MCUB","c":"G","v":1200},{"g":"MCUB","c":"G","v":6500},{"g":"MCUB","c":"G","v":210},{"g":"MCUB","c":"G","v":600},{"g":"MCUB","c":"G","v":3000},{"g":"MCUB","c":"G","v":1250},
{"g":"CYP27B1","c":"A","v":36},{"g":"CYP27B1","c":"A","v":120},{"g":"CYP27B1","c":"A","v":15},{"g":"CYP27B1","c":"A","v":28},{"g":"CYP27B1","c":"A","v":5500},{"g":"CYP27B1","c":"A","v":50},{"g":"CYP27B1","c":"A","v":9},{"g":"CYP27B1","c":"A","v":40},{"g":"CYP27B1","c":"A","v":21},{"g":"CYP27B1","c":"A","v":80},{"g":"CYP27B1","c":"A","v":3.4},{"g":"CYP27B1","c":"A","v":32},{"g":"CYP27B1","c":"A","v":65},{"g":"CYP27B1","c":"A","v":13},{"g":"CYP27B1","c":"A","v":46},{"g":"CYP27B1","c":"A","v":550},{"g":"CYP27B1","c":"A","v":24},{"g":"CYP27B1","c":"A","v":8},{"g":"CYP27B1","c":"A","v":100},{"g":"CYP27B1","c":"A","v":30},{"g":"CYP27B1","c":"A","v":19},{"g":"CYP27B1","c":"A","v":60},{"g":"CYP27B1","c":"A","v":11},{"g":"CYP27B1","c":"A","v":38},{"g":"CYP27B1","c":"A","v":2.6},{"g":"CYP27B1","c":"A","v":54},{"g":"CYP27B1","c":"A","v":250},{"g":"CYP27B1","c":"A","v":26},{"g":"CYP27B1","c":"A","v":7},{"g":"CYP27B1","c":"A","v":90},{"g":"CYP27B1","c":"A","v":34},{"g":"CYP27B1","c":"A","v":17},{"g":"CYP27B1","c":"A","v":1200},{"g":"CYP27B1","c":"A","v":42},{"g":"CYP27B1","c":"A","v":6},{"g":"CYP27B1","c":"A","v":22},{"g":"CYP27B1","c":"A","v":70},{"g":"CYP27B1","c":"A","v":10},{"g":"CYP27B1","c":"A","v":8000},{"g":"CYP27B1","c":"A","v":20},{"g":"CYP27B1","c":"A","v":5},{"g":"CYP27B1","c":"A","v":150},{"g":"CYP27B1","c":"A","v":2.4},{"g":"CYP27B1","c":"A","v":350},{"g":"CYP27B1","c":"A","v":24000},{"g":"CYP27B1","c":"A","v":4},
{"g":"CYP27B1","c":"G","v":95},{"g":"CYP27B1","c":"G","v":1200},{"g":"CYP27B1","c":"G","v":62},{"g":"CYP27B1","c":"G","v":150},{"g":"CYP27B1","c":"G","v":45},{"g":"CYP27B1","c":"G","v":17000},{"g":"CYP27B1","c":"G","v":110},{"g":"CYP27B1","c":"G","v":250},{"g":"CYP27B1","c":"G","v":70},{"g":"CYP27B1","c":"G","v":30},{"g":"CYP27B1","c":"G","v":170},{"g":"CYP27B1","c":"G","v":500},{"g":"CYP27B1","c":"G","v":85},{"g":"CYP27B1","c":"G","v":55},{"g":"CYP27B1","c":"G","v":3500},{"g":"CYP27B1","c":"G","v":130},{"g":"CYP27B1","c":"G","v":22},{"g":"CYP27B1","c":"G","v":75},{"g":"CYP27B1","c":"G","v":200},{"g":"CYP27B1","c":"G","v":66},{"g":"CYP27B1","c":"G","v":900},{"g":"CYP27B1","c":"G","v":120},{"g":"CYP27B1","c":"G","v":40},{"g":"CYP27B1","c":"G","v":13000},{"g":"CYP27B1","c":"G","v":90},{"g":"CYP27B1","c":"G","v":160},{"g":"CYP27B1","c":"G","v":58},{"g":"CYP27B1","c":"G","v":300},{"g":"CYP27B1","c":"G","v":25},{"g":"CYP27B1","c":"G","v":1800},{"g":"CYP27B1","c":"G","v":100},{"g":"CYP27B1","c":"G","v":140},{"g":"CYP27B1","c":"G","v":50},{"g":"CYP27B1","c":"G","v":700},{"g":"CYP27B1","c":"G","v":80},{"g":"CYP27B1","c":"G","v":35},{"g":"CYP27B1","c":"G","v":400},{"g":"CYP27B1","c":"G","v":180},{"g":"CYP27B1","c":"G","v":2500},{"g":"CYP27B1","c":"G","v":5000},
{"g":"ATP5MGL","c":"A","v":1.35},{"g":"ATP5MGL","c":"A","v":0.5},{"g":"ATP5MGL","c":"A","v":3.0},{"g":"ATP5MGL","c":"A","v":1.1},{"g":"ATP5MGL","c":"A","v":0.5},{"g":"ATP5MGL","c":"A","v":2.2},{"g":"ATP5MGL","c":"A","v":1.6},{"g":"ATP5MGL","c":"A","v":0.5},{"g":"ATP5MGL","c":"A","v":4.5},{"g":"ATP5MGL","c":"A","v":1.25},{"g":"ATP5MGL","c":"A","v":0.5},{"g":"ATP5MGL","c":"A","v":1.9},{"g":"ATP5MGL","c":"A","v":2.6},{"g":"ATP5MGL","c":"A","v":0.5},{"g":"ATP5MGL","c":"A","v":1.4},{"g":"ATP5MGL","c":"A","v":5.5},{"g":"ATP5MGL","c":"A","v":0.5},{"g":"ATP5MGL","c":"A","v":1.0},{"g":"ATP5MGL","c":"A","v":2.0},{"g":"ATP5MGL","c":"A","v":0.5},{"g":"ATP5MGL","c":"A","v":3.6},{"g":"ATP5MGL","c":"A","v":1.5},{"g":"ATP5MGL","c":"A","v":0.5},{"g":"ATP5MGL","c":"A","v":2.4},{"g":"ATP5MGL","c":"A","v":1.3},{"g":"ATP5MGL","c":"A","v":0.5},{"g":"ATP5MGL","c":"A","v":1.8},{"g":"ATP5MGL","c":"A","v":4.0},{"g":"ATP5MGL","c":"A","v":0.5},{"g":"ATP5MGL","c":"A","v":1.2},{"g":"ATP5MGL","c":"A","v":2.8},{"g":"ATP5MGL","c":"A","v":1.45},{"g":"ATP5MGL","c":"A","v":3.3},{"g":"ATP5MGL","c":"A","v":1.7},{"g":"ATP5MGL","c":"A","v":2.1},{"g":"ATP5MGL","c":"A","v":5.0},{"g":"ATP5MGL","c":"A","v":0.5},
{"g":"ATP5MGL","c":"G","v":9.5},{"g":"ATP5MGL","c":"G","v":22},{"g":"ATP5MGL","c":"G","v":5.0},{"g":"ATP5MGL","c":"G","v":12},{"g":"ATP5MGL","c":"G","v":7.5},{"g":"ATP5MGL","c":"G","v":3.0},{"g":"ATP5MGL","c":"G","v":16},{"g":"ATP5MGL","c":"G","v":8.8},{"g":"ATP5MGL","c":"G","v":1.4},{"g":"ATP5MGL","c":"G","v":11},{"g":"ATP5MGL","c":"G","v":6.5},{"g":"ATP5MGL","c":"G","v":4.5},{"g":"ATP5MGL","c":"G","v":30},{"g":"ATP5MGL","c":"G","v":10},{"g":"ATP5MGL","c":"G","v":5.5},{"g":"ATP5MGL","c":"G","v":13},{"g":"ATP5MGL","c":"G","v":2.5},{"g":"ATP5MGL","c":"G","v":8.5},{"g":"ATP5MGL","c":"G","v":18},{"g":"ATP5MGL","c":"G","v":6},{"g":"ATP5MGL","c":"G","v":4.0},{"g":"ATP5MGL","c":"G","v":12.5},{"g":"ATP5MGL","c":"G","v":9},{"g":"ATP5MGL","c":"G","v":25},{"g":"ATP5MGL","c":"G","v":5.2},{"g":"ATP5MGL","c":"G","v":7},{"g":"ATP5MGL","c":"G","v":14},{"g":"ATP5MGL","c":"G","v":3.5},{"g":"ATP5MGL","c":"G","v":10.5},{"g":"ATP5MGL","c":"G","v":0.5},{"g":"ATP5MGL","c":"G","v":8},{"g":"ATP5MGL","c":"G","v":20},{"g":"ATP5MGL","c":"G","v":4.8},{"g":"ATP5MGL","c":"G","v":11.5},{"g":"ATP5MGL","c":"G","v":2.2},{"g":"ATP5MGL","c":"G","v":17},{"g":"ATP5MGL","c":"G","v":15},{"g":"ATP5MGL","c":"G","v":4.2},
{"g":"AGXT","c":"A","v":0.5},{"g":"AGXT","c":"A","v":1.3},{"g":"AGXT","c":"A","v":0.5},{"g":"AGXT","c":"A","v":2.2},{"g":"AGXT","c":"A","v":0.5},{"g":"AGXT","c":"A","v":1.45},{"g":"AGXT","c":"A","v":28},{"g":"AGXT","c":"A","v":0.5},{"g":"AGXT","c":"A","v":1.2},{"g":"AGXT","c":"A","v":0.5},{"g":"AGXT","c":"A","v":4.5},{"g":"AGXT","c":"A","v":1.5},{"g":"AGXT","c":"A","v":0.5},{"g":"AGXT","c":"A","v":0.5},{"g":"AGXT","c":"A","v":1.35},{"g":"AGXT","c":"A","v":2.0},{"g":"AGXT","c":"A","v":0.5},{"g":"AGXT","c":"A","v":160},{"g":"AGXT","c":"A","v":1.4},{"g":"AGXT","c":"A","v":0.5},{"g":"AGXT","c":"A","v":0.5},{"g":"AGXT","c":"A","v":1.25},{"g":"AGXT","c":"A","v":3.5},{"g":"AGXT","c":"A","v":0.5},{"g":"AGXT","c":"A","v":1.55},{"g":"AGXT","c":"A","v":0.5},{"g":"AGXT","c":"A","v":32},{"g":"AGXT","c":"A","v":1.3},{"g":"AGXT","c":"A","v":0.5},{"g":"AGXT","c":"A","v":2.4},{"g":"AGXT","c":"A","v":0.5},{"g":"AGXT","c":"A","v":1.4},{"g":"AGXT","c":"A","v":5.5},{"g":"AGXT","c":"A","v":0.5},{"g":"AGXT","c":"A","v":0.5},{"g":"AGXT","c":"A","v":1.5},{"g":"AGXT","c":"A","v":60},{"g":"AGXT","c":"A","v":0.5},{"g":"AGXT","c":"A","v":2.8},{"g":"AGXT","c":"A","v":20},
{"g":"AGXT","c":"G","v":4.0},{"g":"AGXT","c":"G","v":0.5},{"g":"AGXT","c":"G","v":25},{"g":"AGXT","c":"G","v":1.8},{"g":"AGXT","c":"G","v":9},{"g":"AGXT","c":"G","v":130},{"g":"AGXT","c":"G","v":3.0},{"g":"AGXT","c":"G","v":1.3},{"g":"AGXT","c":"G","v":15},{"g":"AGXT","c":"G","v":5.5},{"g":"AGXT","c":"G","v":0.5},{"g":"AGXT","c":"G","v":2.4},{"g":"AGXT","c":"G","v":60},{"g":"AGXT","c":"G","v":7},{"g":"AGXT","c":"G","v":1.5},{"g":"AGXT","c":"G","v":0.5},{"g":"AGXT","c":"G","v":35},{"g":"AGXT","c":"G","v":4.5},{"g":"AGXT","c":"G","v":1.0},{"g":"AGXT","c":"G","v":10},{"g":"AGXT","c":"G","v":2.1},{"g":"AGXT","c":"G","v":560},{"g":"AGXT","c":"G","v":0.5},{"g":"AGXT","c":"G","v":6},{"g":"AGXT","c":"G","v":3.5},{"g":"AGXT","c":"G","v":20},{"g":"AGXT","c":"G","v":1.6},{"g":"AGXT","c":"G","v":0.5},{"g":"AGXT","c":"G","v":90},{"g":"AGXT","c":"G","v":8},{"g":"AGXT","c":"G","v":2.7},{"g":"AGXT","c":"G","v":12},{"g":"AGXT","c":"G","v":1.4},{"g":"AGXT","c":"G","v":0.5},{"g":"AGXT","c":"G","v":40},{"g":"AGXT","c":"G","v":5},{"g":"AGXT","c":"G","v":100},{"g":"AGXT","c":"G","v":1.2},{"g":"AGXT","c":"G","v":0.5},{"g":"AGXT","c":"G","v":30},
{"g":"C15orf48","c":"A","v":3.0},{"g":"C15orf48","c":"A","v":1.4},{"g":"C15orf48","c":"A","v":9},{"g":"C15orf48","c":"A","v":2.4},{"g":"C15orf48","c":"A","v":0.5},{"g":"C15orf48","c":"A","v":5.0},{"g":"C15orf48","c":"A","v":1.9},{"g":"C15orf48","c":"A","v":13},{"g":"C15orf48","c":"A","v":3.6},{"g":"C15orf48","c":"A","v":1.6},{"g":"C15orf48","c":"A","v":0.5},{"g":"C15orf48","c":"A","v":6.2},{"g":"C15orf48","c":"A","v":2.2},{"g":"C15orf48","c":"A","v":22},{"g":"C15orf48","c":"A","v":4.2},{"g":"C15orf48","c":"A","v":1.3},{"g":"C15orf48","c":"A","v":8},{"g":"C15orf48","c":"A","v":2.8},{"g":"C15orf48","c":"A","v":0.5},{"g":"C15orf48","c":"A","v":1.8},{"g":"C15orf48","c":"A","v":47},{"g":"C15orf48","c":"A","v":3.3},{"g":"C15orf48","c":"A","v":5.4},{"g":"C15orf48","c":"A","v":1.5},{"g":"C15orf48","c":"A","v":11},{"g":"C15orf48","c":"A","v":2.0},{"g":"C15orf48","c":"A","v":0.5},{"g":"C15orf48","c":"A","v":4.6},{"g":"C15orf48","c":"A","v":1.2},{"g":"C15orf48","c":"A","v":7},{"g":"C15orf48","c":"A","v":2.6},{"g":"C15orf48","c":"A","v":18},{"g":"C15orf48","c":"A","v":0.5},{"g":"C15orf48","c":"A","v":3.9},{"g":"C15orf48","c":"A","v":1.7},{"g":"C15orf48","c":"A","v":5.8},{"g":"C15orf48","c":"A","v":10},{"g":"C15orf48","c":"A","v":15},
{"g":"C15orf48","c":"G","v":34},{"g":"C15orf48","c":"G","v":120},{"g":"C15orf48","c":"G","v":9},{"g":"C15orf48","c":"G","v":22},{"g":"C15orf48","c":"G","v":480},{"g":"C15orf48","c":"G","v":16},{"g":"C15orf48","c":"G","v":60},{"g":"C15orf48","c":"G","v":5},{"g":"C15orf48","c":"G","v":40},{"g":"C15orf48","c":"G","v":13.5},{"g":"C15orf48","c":"G","v":250},{"g":"C15orf48","c":"G","v":26},{"g":"C15orf48","c":"G","v":3},{"g":"C15orf48","c":"G","v":80},{"g":"C15orf48","c":"G","v":14},{"g":"C15orf48","c":"G","v":47},{"g":"C15orf48","c":"G","v":11},{"g":"C15orf48","c":"G","v":200},{"g":"C15orf48","c":"G","v":31},{"g":"C15orf48","c":"G","v":7},{"g":"C15orf48","c":"G","v":100},{"g":"C15orf48","c":"G","v":18},{"g":"C15orf48","c":"G","v":1.4},{"g":"C15orf48","c":"G","v":44},{"g":"C15orf48","c":"G","v":13},{"g":"C15orf48","c":"G","v":530},{"g":"C15orf48","c":"G","v":24},{"g":"C15orf48","c":"G","v":8},{"g":"C15orf48","c":"G","v":70},{"g":"C15orf48","c":"G","v":37},{"g":"C15orf48","c":"G","v":12},{"g":"C15orf48","c":"G","v":150},{"g":"C15orf48","c":"G","v":20},{"g":"C15orf48","c":"G","v":4},{"g":"C15orf48","c":"G","v":90},{"g":"C15orf48","c":"G","v":28},{"g":"C15orf48","c":"G","v":2.5},{"g":"C15orf48","c":"G","v":300},{"g":"C15orf48","c":"G","v":15},{"g":"C15orf48","c":"G","v":10},{"g":"C15orf48","c":"G","v":50},{"g":"C15orf48","c":"G","v":6},{"g":"C15orf48","c":"G","v":2.2}
]
},
"vconcat":[
{"hconcat":[
{"width":73,"height":184,"data":{"values":[]},"mark":"point","view":{"stroke":null}},
{"width":233,"height":184,"title":"HMGCS2",
"encoding":{"x":{"field":"c","type":"nominal","scale":{"domain":["A","G"],"paddingInner":0,"paddingOuter":0.1},"axis":{"title":null,"labelAngle":0,"labelExpr":"datum.value=='A'?'Astrocytoma':'Glioblastoma'"}}},
"layer":[
{"data":{"name":"box"},"transform":[{"filter":"datum.g=='HMGCS2'"}],"mark":{"type":"rule","color":"#333333","strokeWidth":1.1},"encoding":{"y":{"field":"lo","type":"quantitative","title":"Normalized Counts","scale":{"type":"log","domain":[0.362,245],"nice":false},"axis":{"values":[1,10,100],"format":"d"}},"y2":{"field":"hi"}}},
{"data":{"name":"box"},"transform":[{"filter":"datum.g=='HMGCS2'"}],"mark":{"type":"bar","width":79.4,"stroke":"#333333","strokeWidth":1.1},"encoding":{"y":{"field":"q1","type":"quantitative"},"y2":{"field":"q3"},"color":{"field":"c","type":"nominal","scale":{"domain":["A","G"],"range":["#F8766D","#0580AB"]},"legend":null}}},
{"data":{"name":"box"},"transform":[{"filter":"datum.g=='HMGCS2'"}],"mark":{"type":"tick","size":79.4,"thickness":3,"color":"#333333","opacity":1},"encoding":{"y":{"field":"med","type":"quantitative"}}},
{"data":{"name":"out"},"transform":[{"filter":"datum.g=='HMGCS2'"}],"mark":{"type":"circle","size":50,"color":"#333333","opacity":1},"encoding":{"y":{"field":"v","type":"quantitative"}}},
{"data":{"name":"pts"},"transform":[{"filter":"datum.g=='HMGCS2'"},{"window":[{"op":"row_number","as":"i"}],"groupby":["c"]},{"window":[{"op":"cume_dist","as":"j"}],"sort":[{"field":"i"}],"groupby":["c"]}],"mark":{"type":"circle","size":9,"color":"#000000","opacity":1},"encoding":{"y":{"field":"v","type":"quantitative"},"xOffset":{"field":"j","type":"quantitative","scale":{"domain":[0,1],"range":[10.6,95.3]}}}}
]},
{"width":73,"height":184,"data":{"values":[]},"mark":"point","view":{"stroke":null}},
{"width":243,"height":184,"title":"GK2",
"encoding":{"x":{"field":"c","type":"nominal","scale":{"domain":["A","G"],"paddingInner":0,"paddingOuter":0.1},"axis":{"title":null,"labelAngle":0,"labelExpr":"datum.value=='A'?'Astrocytoma':'Glioblastoma'"}}},
"layer":[
{"data":{"name":"box"},"transform":[{"filter":"datum.g=='GK2'"}],"mark":{"type":"rule","color":"#333333","strokeWidth":1.1},"encoding":{"y":{"field":"lo","type":"quantitative","title":"Normalized Counts","scale":{"type":"log","domain":[0.394,44.4],"nice":false},"axis":{"values":[1,3,10,30],"format":"d"}},"y2":{"field":"hi"}}},
{"data":{"name":"box"},"transform":[{"filter":"datum.g=='GK2'"}],"mark":{"type":"bar","width":82.8,"stroke":"#333333","strokeWidth":1.1},"encoding":{"y":{"field":"q1","type":"quantitative"},"y2":{"field":"q3"},"color":{"field":"c","type":"nominal","scale":{"domain":["A","G"],"range":["#F8766D","#0580AB"]},"legend":null}}},
{"data":{"name":"box"},"transform":[{"filter":"datum.g=='GK2'"}],"mark":{"type":"tick","size":82.8,"thickness":3,"color":"#333333","opacity":1},"encoding":{"y":{"field":"med","type":"quantitative"}}},
{"data":{"name":"out"},"transform":[{"filter":"datum.g=='GK2'"}],"mark":{"type":"circle","size":50,"color":"#333333","opacity":1},"encoding":{"y":{"field":"v","type":"quantitative"}}},
{"data":{"name":"pts"},"transform":[{"filter":"datum.g=='GK2'"},{"window":[{"op":"row_number","as":"i"}],"groupby":["c"]},{"window":[{"op":"cume_dist","as":"j"}],"sort":[{"field":"i"}],"groupby":["c"]}],"mark":{"type":"circle","size":9,"color":"#000000","opacity":1},"encoding":{"y":{"field":"v","type":"quantitative"},"xOffset":{"field":"j","type":"quantitative","scale":{"domain":[0,1],"range":[11.0,99.4]}}}}
]},
{"width":99,"height":184,"data":{"values":[]},"mark":"point","view":{"stroke":null}},
{"width":215,"height":184,"title":"ETNPPL",
"encoding":{"x":{"field":"c","type":"nominal","scale":{"domain":["A","G"],"paddingInner":0,"paddingOuter":0.1},"axis":{"title":null,"labelAngle":0,"labelExpr":"datum.value=='A'?'Astrocytoma':'Glioblastoma'"}}},
"layer":[
{"data":{"name":"box"},"transform":[{"filter":"datum.g=='ETNPPL'"}],"mark":{"type":"rule","color":"#333333","strokeWidth":1.1},"encoding":{"y":{"field":"lo","type":"quantitative","title":"Normalized Counts","scale":{"type":"log","domain":[9.55,48400],"nice":false},"axis":{"values":[10,100,1000,10000],"format":"d"}},"y2":{"field":"hi"}}},
{"data":{"name":"box"},"transform":[{"filter":"datum.g=='ETNPPL'"}],"mark":{"type":"bar","width":73.3,"stroke":"#333333","strokeWidth":1.1},"encoding":{"y":{"field":"q1","type":"quantitative"},"y2":{"field":"q3"},"color":{"field":"c","type":"nominal","scale":{"domain":["A","G"],"range":["#F8766D","#0580AB"]},"legend":null}}},
{"data":{"name":"box"},"transform":[{"filter":"datum.g=='ETNPPL'"}],"mark":{"type":"tick","size":73.3,"thickness":3,"color":"#333333","opacity":1},"encoding":{"y":{"field":"med","type":"quantitative"}}},
{"data":{"name":"out"},"transform":[{"filter":"datum.g=='ETNPPL'"}],"mark":{"type":"circle","size":50,"color":"#333333","opacity":1},"encoding":{"y":{"field":"v","type":"quantitative"}}},
{"data":{"name":"pts"},"transform":[{"filter":"datum.g=='ETNPPL'"},{"window":[{"op":"row_number","as":"i"}],"groupby":["c"]},{"window":[{"op":"cume_dist","as":"j"}],"sort":[{"field":"i"}],"groupby":["c"]}],"mark":{"type":"circle","size":9,"color":"#000000","opacity":1},"encoding":{"y":{"field":"v","type":"quantitative"},"xOffset":{"field":"j","type":"quantitative","scale":{"domain":[0,1],"range":[9.8,87.9]}}}}
]},
{"width":91,"height":184,"data":{"values":[]},"mark":"point","view":{"stroke":null}},
{"width":214,"height":184,"title":"SLC2A4",
"encoding":{"x":{"field":"c","type":"nominal","scale":{"domain":["A","G"],"paddingInner":0,"paddingOuter":0.1},"axis":{"title":null,"labelAngle":0,"labelExpr":"datum.value=='A'?'Astrocytoma':'Glioblastoma'"}}},
"layer":[
{"data":{"name":"box"},"transform":[{"filter":"datum.g=='SLC2A4'"}],"mark":{"type":"rule","color":"#333333","strokeWidth":1.1},"encoding":{"y":{"field":"lo","type":"quantitative","title":"Normalized Counts","scale":{"type":"log","domain":[5.14,2296],"nice":false},"axis":{"values":[10,100,1000],"format":"d"}},"y2":{"field":"hi"}}},
{"data":{"name":"box"},"transform":[{"filter":"datum.g=='SLC2A4'"}],"mark":{"type":"bar","width":73.0,"stroke":"#333333","strokeWidth":1.1},"encoding":{"y":{"field":"q1","type":"quantitative"},"y2":{"field":"q3"},"color":{"field":"c","type":"nominal","scale":{"domain":["A","G"],"range":["#F8766D","#0580AB"]},"legend":null}}},
{"data":{"name":"box"},"transform":[{"filter":"datum.g=='SLC2A4'"}],"mark":{"type":"tick","size":73.0,"thickness":3,"color":"#333333","opacity":1},"encoding":{"y":{"field":"med","type":"quantitative"}}},
{"data":{"name":"out"},"transform":[{"filter":"datum.g=='SLC2A4'"}],"mark":{"type":"circle","size":50,"color":"#333333","opacity":1},"encoding":{"y":{"field":"v","type":"quantitative"}}},
{"data":{"name":"pts"},"transform":[{"filter":"datum.g=='SLC2A4'"},{"window":[{"op":"row_number","as":"i"}],"groupby":["c"]},{"window":[{"op":"cume_dist","as":"j"}],"sort":[{"field":"i"}],"groupby":["c"]}],"mark":{"type":"circle","size":9,"color":"#000000","opacity":1},"encoding":{"y":{"field":"v","type":"quantitative"},"xOffset":{"field":"j","type":"quantitative","scale":{"domain":[0,1],"range":[9.7,87.5]}}}}
]}
],"spacing":0,"bounds":"flush","resolve":{"scale":{"x":"independent","y":"independent"}}},
{"hconcat":[
{"width":89,"height":182.3,"data":{"values":[]},"mark":"point","view":{"stroke":null}},
{"width":217,"height":182.3,"title":"SLC25A48",
"encoding":{"x":{"field":"c","type":"nominal","scale":{"domain":["A","G"],"paddingInner":0,"paddingOuter":0.1},"axis":{"title":null,"labelAngle":0,"labelExpr":"datum.value=='A'?'Astrocytoma':'Glioblastoma'"}}},
"layer":[
{"data":{"name":"box"},"transform":[{"filter":"datum.g=='SLC25A48'"}],"mark":{"type":"rule","color":"#333333","strokeWidth":1.1},"encoding":{"y":{"field":"lo","type":"quantitative","title":"Normalized Counts","scale":{"type":"log","domain":[2.04,13360],"nice":false},"axis":{"values":[10,100,1000,10000],"format":"d"}},"y2":{"field":"hi"}}},
{"data":{"name":"box"},"transform":[{"filter":"datum.g=='SLC25A48'"}],"mark":{"type":"bar","width":74.0,"stroke":"#333333","strokeWidth":1.1},"encoding":{"y":{"field":"q1","type":"quantitative"},"y2":{"field":"q3"},"color":{"field":"c","type":"nominal","scale":{"domain":["A","G"],"range":["#F8766D","#0580AB"]},"legend":null}}},
{"data":{"name":"box"},"transform":[{"filter":"datum.g=='SLC25A48'"}],"mark":{"type":"tick","size":74.0,"thickness":3,"color":"#333333","opacity":1},"encoding":{"y":{"field":"med","type":"quantitative"}}},
{"data":{"name":"out"},"transform":[{"filter":"datum.g=='SLC25A48'"}],"mark":{"type":"circle","size":50,"color":"#333333","opacity":1},"encoding":{"y":{"field":"v","type":"quantitative"}}},
{"data":{"name":"pts"},"transform":[{"filter":"datum.g=='SLC25A48'"},{"window":[{"op":"row_number","as":"i"}],"groupby":["c"]},{"window":[{"op":"cume_dist","as":"j"}],"sort":[{"field":"i"}],"groupby":["c"]}],"mark":{"type":"circle","size":9,"color":"#000000","opacity":1},"encoding":{"y":{"field":"v","type":"quantitative"},"xOffset":{"field":"j","type":"quantitative","scale":{"domain":[0,1],"range":[9.9,88.8]}}}}
]},
{"width":91,"height":182.3,"data":{"values":[]},"mark":"point","view":{"stroke":null}},
{"width":225,"height":182.3,"title":"TERT",
"encoding":{"x":{"field":"c","type":"nominal","scale":{"domain":["A","G"],"paddingInner":0,"paddingOuter":0.1},"axis":{"title":null,"labelAngle":0,"labelExpr":"datum.value=='A'?'Astrocytoma':'Glioblastoma'"}}},
"layer":[
{"data":{"name":"box"},"transform":[{"filter":"datum.g=='TERT'"}],"mark":{"type":"rule","color":"#333333","strokeWidth":1.1},"encoding":{"y":{"field":"lo","type":"quantitative","title":"Normalized Counts","scale":{"type":"log","domain":[0.33,2120],"nice":false},"axis":{"values":[1,10,100,1000],"format":"d"}},"y2":{"field":"hi"}}},
{"data":{"name":"box"},"transform":[{"filter":"datum.g=='TERT'"}],"mark":{"type":"bar","width":76.7,"stroke":"#333333","strokeWidth":1.1},"encoding":{"y":{"field":"q1","type":"quantitative"},"y2":{"field":"q3"},"color":{"field":"c","type":"nominal","scale":{"domain":["A","G"],"range":["#F8766D","#0580AB"]},"legend":null}}},
{"data":{"name":"box"},"transform":[{"filter":"datum.g=='TERT'"}],"mark":{"type":"tick","size":76.7,"thickness":3,"color":"#333333","opacity":1},"encoding":{"y":{"field":"med","type":"quantitative"}}},
{"data":{"name":"out"},"transform":[{"filter":"datum.g=='TERT'"}],"mark":{"type":"circle","size":50,"color":"#333333","opacity":1},"encoding":{"y":{"field":"v","type":"quantitative"}}},
{"data":{"name":"pts"},"transform":[{"filter":"datum.g=='TERT'"},{"window":[{"op":"row_number","as":"i"}],"groupby":["c"]},{"window":[{"op":"cume_dist","as":"j"}],"sort":[{"field":"i"}],"groupby":["c"]}],"mark":{"type":"circle","size":9,"color":"#000000","opacity":1},"encoding":{"y":{"field":"v","type":"quantitative"},"xOffset":{"field":"j","type":"quantitative","scale":{"domain":[0,1],"range":[10.2,92.0]}}}}
]},
{"width":89,"height":182.3,"data":{"values":[]},"mark":"point","view":{"stroke":null}},
{"width":225,"height":182.3,"title":"MCUB",
"encoding":{"x":{"field":"c","type":"nominal","scale":{"domain":["A","G"],"paddingInner":0,"paddingOuter":0.1},"axis":{"title":null,"labelAngle":0,"labelExpr":"datum.value=='A'?'Astrocytoma':'Glioblastoma'"}}},
"layer":[
{"data":{"name":"box"},"transform":[{"filter":"datum.g=='MCUB'"}],"mark":{"type":"rule","color":"#333333","strokeWidth":1.1},"encoding":{"y":{"field":"lo","type":"quantitative","title":"Normalized Counts","scale":{"type":"log","domain":[14.1,9640],"nice":false},"axis":{"values":[30,100,300,1000,3000],"format":"d"}},"y2":{"field":"hi"}}},
{"data":{"name":"box"},"transform":[{"filter":"datum.g=='MCUB'"}],"mark":{"type":"bar","width":76.7,"stroke":"#333333","strokeWidth":1.1},"encoding":{"y":{"field":"q1","type":"quantitative"},"y2":{"field":"q3"},"color":{"field":"c","type":"nominal","scale":{"domain":["A","G"],"range":["#F8766D","#0580AB"]},"legend":null}}},
{"data":{"name":"box"},"transform":[{"filter":"datum.g=='MCUB'"}],"mark":{"type":"tick","size":76.7,"thickness":3,"color":"#333333","opacity":1},"encoding":{"y":{"field":"med","type":"quantitative"}}},
{"data":{"name":"out"},"transform":[{"filter":"datum.g=='MCUB'"}],"mark":{"type":"circle","size":50,"color":"#333333","opacity":1},"encoding":{"y":{"field":"v","type":"quantitative"}}},
{"data":{"name":"pts"},"transform":[{"filter":"datum.g=='MCUB'"},{"window":[{"op":"row_number","as":"i"}],"groupby":["c"]},{"window":[{"op":"cume_dist","as":"j"}],"sort":[{"field":"i"}],"groupby":["c"]}],"mark":{"type":"circle","size":9,"color":"#000000","opacity":1},"encoding":{"y":{"field":"v","type":"quantitative"},"xOffset":{"field":"j","type":"quantitative","scale":{"domain":[0,1],"range":[10.2,92.0]}}}}
]},
{"width":100,"height":182.3,"data":{"values":[]},"mark":"point","view":{"stroke":null}},
{"width":205,"height":182.3,"title":"CYP27B1",
"encoding":{"x":{"field":"c","type":"nominal","scale":{"domain":["A","G"],"paddingInner":0,"paddingOuter":0.1},"axis":{"title":null,"labelAngle":0,"labelExpr":"datum.value=='A'?'Astrocytoma':'Glioblastoma'"}}},
"layer":[
{"data":{"name":"box"},"transform":[{"filter":"datum.g=='CYP27B1'"}],"mark":{"type":"rule","color":"#333333","strokeWidth":1.1},"encoding":{"y":{"field":"lo","type":"quantitative","title":"Normalized Counts","scale":{"type":"log","domain":[1.42,36600],"nice":false},"axis":{"values":[10,100,1000,10000],"format":"d"}},"y2":{"field":"hi"}}},
{"data":{"name":"box"},"transform":[{"filter":"datum.g=='CYP27B1'"}],"mark":{"type":"bar","width":69.9,"stroke":"#333333","strokeWidth":1.1},"encoding":{"y":{"field":"q1","type":"quantitative"},"y2":{"field":"q3"},"color":{"field":"c","type":"nominal","scale":{"domain":["A","G"],"range":["#F8766D","#0580AB"]},"legend":null}}},
{"data":{"name":"box"},"transform":[{"filter":"datum.g=='CYP27B1'"}],"mark":{"type":"tick","size":69.9,"thickness":3,"color":"#333333","opacity":1},"encoding":{"y":{"field":"med","type":"quantitative"}}},
{"data":{"name":"out"},"transform":[{"filter":"datum.g=='CYP27B1'"}],"mark":{"type":"circle","size":50,"color":"#333333","opacity":1},"encoding":{"y":{"field":"v","type":"quantitative"}}},
{"data":{"name":"pts"},"transform":[{"filter":"datum.g=='CYP27B1'"},{"window":[{"op":"row_number","as":"i"}],"groupby":["c"]},{"window":[{"op":"cume_dist","as":"j"}],"sort":[{"field":"i"}],"groupby":["c"]}],"mark":{"type":"circle","size":9,"color":"#000000","opacity":1},"encoding":{"y":{"field":"v","type":"quantitative"},"xOffset":{"field":"j","type":"quantitative","scale":{"domain":[0,1],"range":[9.3,83.9]}}}}
]}
],"spacing":0,"bounds":"flush","resolve":{"scale":{"x":"independent","y":"independent"}}},
{"hconcat":[
{"width":63,"height":182.4,"data":{"values":[]},"mark":"point","view":{"stroke":null}},
{"width":243,"height":182.4,"title":"ATP5MGL",
"encoding":{"x":{"field":"c","type":"nominal","scale":{"domain":["A","G"],"paddingInner":0,"paddingOuter":0.1},"axis":{"title":null,"labelAngle":0,"labelExpr":"datum.value=='A'?'Astrocytoma':'Glioblastoma'"}}},
"layer":[
{"data":{"name":"box"},"transform":[{"filter":"datum.g=='ATP5MGL'"}],"mark":{"type":"rule","color":"#333333","strokeWidth":1.1},"encoding":{"y":{"field":"lo","type":"quantitative","title":"Normalized Counts","scale":{"type":"log","domain":[0.41,37.5],"nice":false},"axis":{"values":[1,3,10,30],"format":"d"}},"y2":{"field":"hi"}}},
{"data":{"name":"box"},"transform":[{"filter":"datum.g=='ATP5MGL'"}],"mark":{"type":"bar","width":82.8,"stroke":"#333333","strokeWidth":1.1},"encoding":{"y":{"field":"q1","type":"quantitative"},"y2":{"field":"q3"},"color":{"field":"c","type":"nominal","scale":{"domain":["A","G"],"range":["#F8766D","#0580AB"]},"legend":null}}},
{"data":{"name":"box"},"transform":[{"filter":"datum.g=='ATP5MGL'"}],"mark":{"type":"tick","size":82.8,"thickness":3,"color":"#333333","opacity":1},"encoding":{"y":{"field":"med","type":"quantitative"}}},
{"data":{"name":"out"},"transform":[{"filter":"datum.g=='ATP5MGL'"}],"mark":{"type":"circle","size":50,"color":"#333333","opacity":1},"encoding":{"y":{"field":"v","type":"quantitative"}}},
{"data":{"name":"pts"},"transform":[{"filter":"datum.g=='ATP5MGL'"},{"window":[{"op":"row_number","as":"i"}],"groupby":["c"]},{"window":[{"op":"cume_dist","as":"j"}],"sort":[{"field":"i"}],"groupby":["c"]}],"mark":{"type":"circle","size":9,"color":"#000000","opacity":1},"encoding":{"y":{"field":"v","type":"quantitative"},"xOffset":{"field":"j","type":"quantitative","scale":{"domain":[0,1],"range":[11.0,99.4]}}}}
]},
{"width":82,"height":182.4,"data":{"values":[]},"mark":"point","view":{"stroke":null}},
{"width":234,"height":182.4,"title":"AGXT",
"encoding":{"x":{"field":"c","type":"nominal","scale":{"domain":["A","G"],"paddingInner":0,"paddingOuter":0.1},"axis":{"title":null,"labelAngle":0,"labelExpr":"datum.value=='A'?'Astrocytoma':'Glioblastoma'"}}},
"layer":[
{"data":{"name":"box"},"transform":[{"filter":"datum.g=='AGXT'"}],"mark":{"type":"rule","color":"#333333","strokeWidth":1.1},"encoding":{"y":{"field":"lo","type":"quantitative","title":"Normalized Counts","scale":{"type":"log","domain":[0.356,794],"nice":false},"axis":{"values":[1,10,100],"format":"d"}},"y2":{"field":"hi"}}},
{"data":{"name":"box"},"transform":[{"filter":"datum.g=='AGXT'"}],"mark":{"type":"bar","width":79.8,"stroke":"#333333","strokeWidth":1.1},"encoding":{"y":{"field":"q1","type":"quantitative"},"y2":{"field":"q3"},"color":{"field":"c","type":"nominal","scale":{"domain":["A","G"],"range":["#F8766D","#0580AB"]},"legend":null}}},
{"data":{"name":"box"},"transform":[{"filter":"datum.g=='AGXT'"}],"mark":{"type":"tick","size":79.8,"thickness":3,"color":"#333333","opacity":1},"encoding":{"y":{"field":"med","type":"quantitative"}}},
{"data":{"name":"out"},"transform":[{"filter":"datum.g=='AGXT'"}],"mark":{"type":"circle","size":50,"color":"#333333","opacity":1},"encoding":{"y":{"field":"v","type":"quantitative"}}},
{"data":{"name":"pts"},"transform":[{"filter":"datum.g=='AGXT'"},{"window":[{"op":"row_number","as":"i"}],"groupby":["c"]},{"window":[{"op":"cume_dist","as":"j"}],"sort":[{"field":"i"}],"groupby":["c"]}],"mark":{"type":"circle","size":9,"color":"#000000","opacity":1},"encoding":{"y":{"field":"v","type":"quantitative"},"xOffset":{"field":"j","type":"quantitative","scale":{"domain":[0,1],"range":[10.6,95.7]}}}}
]},
{"width":81,"height":182.4,"data":{"values":[]},"mark":"point","view":{"stroke":null}},
{"width":233,"height":182.4,"title":"C15orf48",
"encoding":{"x":{"field":"c","type":"nominal","scale":{"domain":["A","G"],"paddingInner":0,"paddingOuter":0.1},"axis":{"title":null,"labelAngle":0,"labelExpr":"datum.value=='A'?'Astrocytoma':'Glioblastoma'"}}},
"layer":[
{"data":{"name":"box"},"transform":[{"filter":"datum.g=='C15orf48'"}],"mark":{"type":"rule","color":"#333333","strokeWidth":1.1},"encoding":{"y":{"field":"lo","type":"quantitative","title":"Normalized Counts","scale":{"type":"log","domain":[0.351,728],"nice":false},"axis":{"values":[1,10,100],"format":"d"}},"y2":{"field":"hi"}}},
{"data":{"name":"box"},"transform":[{"filter":"datum.g=='C15orf48'"}],"mark":{"type":"bar","width":79.4,"stroke":"#333333","strokeWidth":1.1},"encoding":{"y":{"field":"q1","type":"quantitative"},"y2":{"field":"q3"},"color":{"field":"c","type":"nominal","scale":{"domain":["A","G"],"range":["#F8766D","#0580AB"]},"legend":null}}},
{"data":{"name":"box"},"transform":[{"filter":"datum.g=='C15orf48'"}],"mark":{"type":"tick","size":79.4,"thickness":3,"color":"#333333","opacity":1},"encoding":{"y":{"field":"med","type":"quantitative"}}},
{"data":{"name":"out"},"transform":[{"filter":"datum.g=='C15orf48'"}],"mark":{"type":"circle","size":50,"color":"#333333","opacity":1},"encoding":{"y":{"field":"v","type":"quantitative"}}},
{"data":{"name":"pts"},"transform":[{"filter":"datum.g=='C15orf48'"},{"window":[{"op":"row_number","as":"i"}],"groupby":["c"]},{"window":[{"op":"cume_dist","as":"j"}],"sort":[{"field":"i"}],"groupby":["c"]}],"mark":{"type":"circle","size":9,"color":"#000000","opacity":1},"encoding":{"y":{"field":"v","type":"quantitative"},"xOffset":{"field":"j","type":"quantitative","scale":{"domain":[0,1],"range":[10.6,95.3]}}}}
]}
],"spacing":0,"bounds":"flush","resolve":{"scale":{"x":"independent","y":"independent"}}}
],
"spacing":19.2,
"bounds":"full",
"resolve":{"scale":{"x":"independent","y":"independent"}}
}
